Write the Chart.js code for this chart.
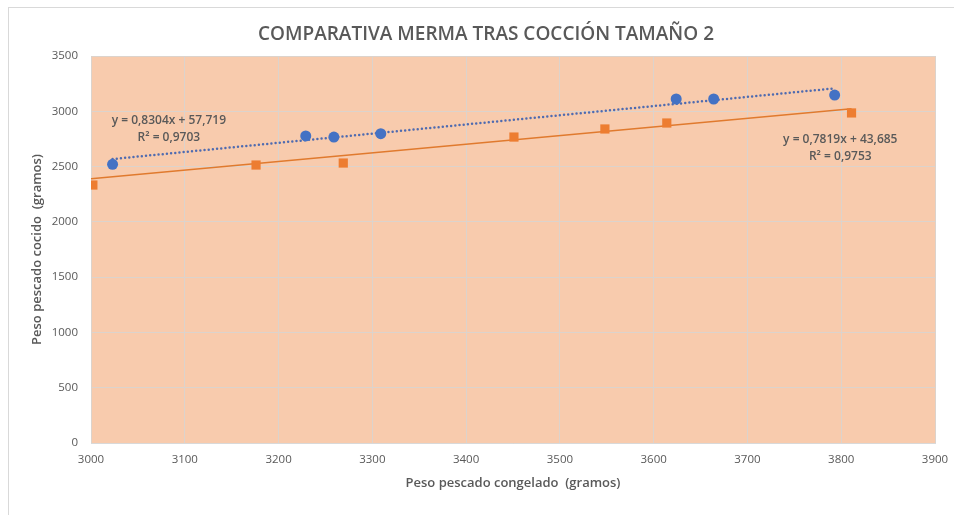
<!DOCTYPE html>
<html>
<head>
<meta charset="utf-8">
<script src="https://cdn.jsdelivr.net/npm/chart.js@4.4.1/dist/chart.umd.min.js"></script>
<style>
  html, body { margin: 0; padding: 0; background: #ffffff; }
  #wrap { position: relative; width: 954px; height: 515px; }
  #frame { position: absolute; left: 8px; top: 7px; right: 0; bottom: 0; border-left: 1px solid #d9d9d9; border-top: 1px solid #d9d9d9; pointer-events: none; }
  canvas { position: absolute; left: 0; top: 0; }
</style>
</head>
<body>
<div id="wrap">
  <canvas id="c" width="954" height="515"></canvas>
  <div id="frame"></div>
</div>
<script>
// ---- Data ----
const chartTitle = 'COMPARATIVA MERMA TRAS COCCIÓN TAMAÑO 2';
const xAxisTitle = 'Peso pescado congelado  (gramos)';
const yAxisTitle = 'Peso pescado cocido  (gramos)';

const xTicks = [3000, 3100, 3200, 3300, 3400, 3500, 3600, 3700, 3800, 3900];
const yTicks = [0, 500, 1000, 1500, 2000, 2500, 3000, 3500];

// Series 1 (blue circles)
const blueX = [3023, 3229, 3259, 3309, 3624, 3664, 3793];
const blueY = [2520, 2777, 2767, 2797, 3111, 3111, 3147];
// Series 2 (orange squares)
const orangeX = [3002, 3176, 3269, 3451, 3548, 3614, 3811];
const orangeY = [2333, 2514, 2532, 2767, 2840, 2894, 2985];

// Trendlines (equations shown in the chart)
const blueTrend = [0.8304, 57.719];
const orangeTrend = [0.7819, 43.685];
const blueTrendRange = [3023, 3793];
const orangeTrendRange = [3000, 3811];

// Equation labels and their anchor (data units)
const blueLabel = ['y = 0,8304x + 57,719', 'R² = 0,9703'];
const orangeLabel = ['y = 0,7819x + 43,685', 'R² = 0,9753'];
const blueLabelAt = [3083, 2840];
const orangeLabelAt = [3799, 2667];

// ---- Build ----
const toPts = (xs, ys) => xs.map((x, i) => ({ x: x, y: ys[i] }));
const trendPts = (t, r) => r.map(x => ({ x: x, y: t[0] * x + t[1] }));

const BLUE = '#4472C4';
const ORANGE = '#ED7D31';
const TXT = '#595959';
const FONT = "'Open Sans', 'Liberation Sans', sans-serif";

const plotBg = {
  id: 'plotBg',
  beforeDraw(chart) {
    const { ctx, chartArea: a } = chart;
    ctx.save();
    ctx.fillStyle = '#F8CBAD';
    ctx.fillRect(a.left, a.top, a.right - a.left, a.bottom - a.top);
    ctx.restore();
  }
};

const eqLabels = {
  id: 'eqLabels',
  afterDatasetsDraw(chart) {
    const { ctx, scales } = chart;
    const draw = (lines, at) => {
      const cx = scales.x.getPixelForValue(at[0]);
      const cy = scales.y.getPixelForValue(at[1]);
      ctx.save();
      ctx.fillStyle = TXT;
      ctx.font = "600 12px " + FONT;
      ctx.textAlign = 'center';
      ctx.textBaseline = 'middle';
      ctx.fillText(lines[0], cx, cy - 8.5);
      ctx.fillText(lines[1], cx, cy + 8.5);
      ctx.restore();
    };
    draw(blueLabel, blueLabelAt);
    draw(orangeLabel, orangeLabelAt);
  }
};

new Chart(document.getElementById('c'), {
  type: 'scatter',
  data: {
    datasets: [
      {
        label: 'Serie 1',
        data: toPts(blueX, blueY),
        backgroundColor: BLUE,
        borderColor: BLUE,
        pointStyle: 'circle',
        pointRadius: 5.5,
        pointBorderWidth: 0,
        order: 1
      },
      {
        label: 'Serie 2',
        data: toPts(orangeX, orangeY),
        backgroundColor: ORANGE,
        borderColor: ORANGE,
        pointStyle: 'rect',
        pointRadius: 6.5,
        pointBorderWidth: 0,
        order: 1
      },
      {
        label: 'Lineal (Serie 1)',
        data: trendPts(blueTrend, blueTrendRange),
        showLine: true,
        borderColor: '#4F6BB0',
        borderWidth: 2.5,
        borderDash: [0, 4.2],
        borderCapStyle: 'round',
        pointRadius: 0,
        order: 2
      },
      {
        label: 'Lineal (Serie 2)',
        data: trendPts(orangeTrend, orangeTrendRange),
        showLine: true,
        borderColor: '#E07A2E',
        borderWidth: 1.6,
        pointRadius: 0,
        order: 2
      }
    ]
  },
  options: {
    responsive: false,
    animation: false,
    devicePixelRatio: 1,
    layout: { padding: { left: 18, right: 0, top: 0, bottom: 0 } },
    plugins: {
      legend: { display: false },
      tooltip: { enabled: false },
      title: {
        display: true,
        text: chartTitle,
        color: TXT,
        font: { family: FONT, size: 19, weight: '600' },
        padding: { top: 23, bottom: 10.2 }
      }
    },
    scales: {
      x: {
        type: 'linear',
        min: xTicks[0],
        max: xTicks[xTicks.length - 1],
        afterBuildTicks(s) { s.ticks = xTicks.map(v => ({ value: v })); },
        afterFit(s) { s.height = 72; s.paddingRight = 19; s.paddingLeft = 0; },
        grid: { color: '#DCD3CC', drawTicks: false },
        border: { color: '#D9D9D9' },
        ticks: { color: TXT, font: { family: FONT, size: 11.5 }, padding: 10, maxRotation: 0, autoSkip: false, callback: v => String(v) },
        title: {
          display: true,
          text: xAxisTitle,
          color: TXT,
          font: { family: FONT, size: 13, weight: '600' },
          padding: { top: 0, bottom: 23.5 }
        }
      },
      y: {
        type: 'linear',
        min: yTicks[0],
        max: yTicks[yTicks.length - 1],
        afterBuildTicks(s) { s.ticks = yTicks.map(v => ({ value: v })); },
        afterFit(s) { s.width = 73; },
        grid: { color: '#DCD3CC', drawTicks: false },
        border: { display: false },
        ticks: { color: TXT, font: { family: FONT, size: 11.5 }, padding: 13, callback: v => String(v) },
        title: {
          display: true,
          text: yAxisTitle,
          color: TXT,
          font: { family: FONT, size: 13, weight: '600' },
          padding: { top: 11, bottom: 0 }
        }
      }
    }
  },
  plugins: [plotBg, eqLabels]
});
</script>
</body>
</html>
